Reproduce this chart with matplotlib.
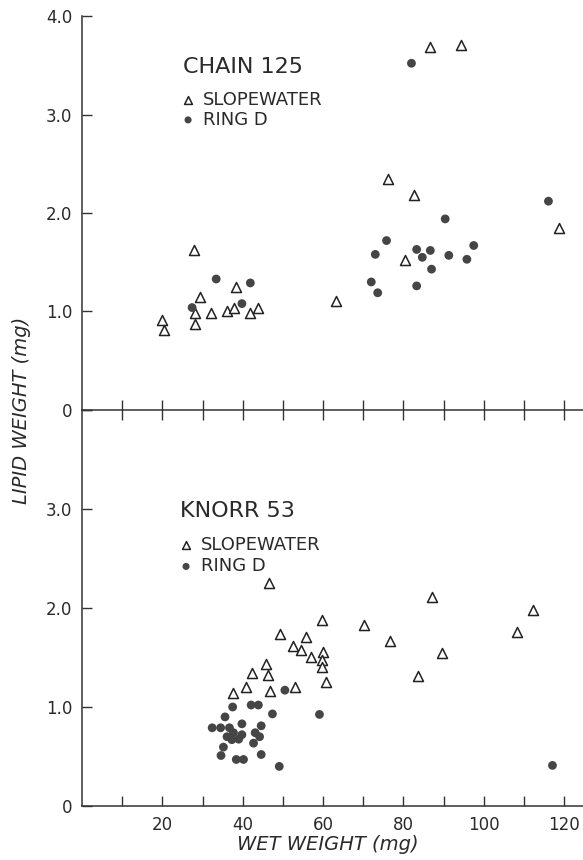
import matplotlib
matplotlib.use("Agg")
import matplotlib.pyplot as plt
from matplotlib.ticker import FixedLocator

plt.rcParams['font.family'] = ['DejaVu Sans']

# ---- CHAIN 125 ----
chain_slope_x = [19.9, 20.3, 27.8, 29.3, 28.2, 28.2, 32.2, 36.1, 37.9, 38.3, 41.7, 43.8,
                 86.5, 94.3, 76.1, 82.7, 80.5, 63.2, 118.8]
chain_slope_y = [0.91, 0.81, 1.62, 1.15, 0.98, 0.87, 0.98, 1.00, 1.04, 1.25, 0.98, 1.04,
                 3.69, 3.71, 2.35, 2.18, 1.52, 1.11, 1.85]
chain_ring_x = [27.4, 33.4, 39.8, 41.9, 82.0, 90.4, 116.1, 75.8, 73.0, 83.3, 84.7, 86.7,
                87.0, 91.3, 95.8, 97.5, 72.0, 73.6, 83.3]
chain_ring_y = [1.04, 1.33, 1.08, 1.29, 3.52, 1.94, 2.12, 1.72, 1.58, 1.63, 1.55, 1.62,
                1.43, 1.57, 1.53, 1.67, 1.30, 1.19, 1.26]

# ---- KNORR 53 ----
knorr_slope_x = [46.6, 49.3, 52.4, 54.5, 55.8, 57.0, 59.7, 59.9, 59.7, 59.7, 60.7, 45.7,
                 46.2, 42.4, 40.8, 37.6, 46.8, 52.9, 87.2, 70.3, 76.7, 89.7, 83.7, 108.2, 112.3]
knorr_slope_y = [2.25, 1.74, 1.62, 1.58, 1.71, 1.51, 1.88, 1.56, 1.47, 1.40, 1.25, 1.43,
                 1.32, 1.34, 1.20, 1.14, 1.16, 1.20, 2.11, 1.83, 1.67, 1.55, 1.31, 1.76, 1.98]
knorr_ring_x = [59.1, 117.1, 50.5, 47.4, 49.1, 37.5, 42.1, 43.9, 35.6, 39.8, 44.6, 32.4,
                34.5, 36.7, 37.7, 43.1, 39.8, 36.1, 44.2, 37.3, 39.0, 42.7, 35.2, 34.6,
                38.4, 40.2, 44.6]
knorr_ring_y = [0.925, 0.41, 1.17, 0.93, 0.40, 1.00, 1.02, 1.02, 0.90, 0.83, 0.81, 0.79,
                0.79, 0.79, 0.74, 0.74, 0.72, 0.70, 0.70, 0.67, 0.675, 0.635, 0.595, 0.51,
                0.47, 0.47, 0.52]

x_ticks = [10, 20, 30, 40, 50, 60, 70, 80, 90, 100, 110, 120]
x_ticklabels = ['', '20', '', '40', '', '60', '', '80', '', '100', '', '120']
y_ticks = [0, 1, 2, 3, 4]
top_yticklabels = ['0', '1.0', '2.0', '3.0', '4.0']
bot_yticklabels = ['0', '1.0', '2.0', '3.0', '']

INK = '#333333'
TXT = '#2a2a2a'
DOT = '#454545'

fig = plt.figure(figsize=(5.83, 8.60), dpi=100)
left = 82 / 583
ax_top = fig.add_axes([left, 1 - 410 / 860, 1 - left, 394 / 860])
ax_bot = fig.add_axes([left, 1 - 806 / 860, 1 - left, 396 / 860])

for ax in (ax_top, ax_bot):
    ax.set_xlim(0, 124.7)
    ax.set_ylim(0, 4.0)
    ax.spines['right'].set_visible(False)
    ax.spines['top'].set_visible(False)
    for s in ax.spines.values():
        s.set_color(INK)
        s.set_linewidth(1.1)
    ax.yaxis.set_major_locator(FixedLocator(y_ticks))
    ax.xaxis.set_major_locator(FixedLocator(x_ticks))
    ax.tick_params(axis='y', direction='in', length=7, width=1.0, color=INK,
                   labelsize=12, pad=7, labelcolor=TXT)
    ax.set_facecolor('none')

ax_top.set_yticklabels(top_yticklabels)
ax_bot.set_yticklabels(bot_yticklabels)
ax_top.tick_params(axis='x', direction='inout', length=14, width=1.0, color=INK,
                   labelbottom=False)
ax_bot.tick_params(axis='x', direction='in', length=7, width=1.0, color=INK,
                   labelsize=12, pad=7, labelcolor=TXT)
ax_bot.set_xticklabels(x_ticklabels)

tri_kw = dict(marker='^', s=52, facecolors='white', edgecolors='#222222', linewidths=1.1, zorder=3)
dot_kw = dict(marker='o', s=40, color=DOT, edgecolors='none', zorder=3)

ax_top.scatter(chain_slope_x, chain_slope_y, **tri_kw)
ax_top.scatter(chain_ring_x, chain_ring_y, **dot_kw)
ax_bot.scatter(knorr_slope_x, knorr_slope_y, **tri_kw)
ax_bot.scatter(knorr_ring_x, knorr_ring_y, **dot_kw)

# in-panel labels / legends
ax_top.text(25.2, 3.48, 'CHAIN 125', fontsize=16, va='center', ha='left', color=TXT)
ax_top.scatter([26.4], [3.15], **dict(tri_kw, s=32))
ax_top.scatter([26.4], [2.945], **dict(dot_kw, s=26))
ax_top.text(30.0, 3.15, 'SLOPEWATER', fontsize=13, va='center', ha='left', color=TXT)
ax_top.text(30.0, 2.945, 'RING D', fontsize=13, va='center', ha='left', color=TXT)

ax_bot.text(24.5, 2.98, 'KNORR 53', fontsize=16, va='center', ha='left', color=TXT)
ax_bot.scatter([25.9], [2.64], **dict(tri_kw, s=32))
ax_bot.scatter([25.9], [2.42], **dict(dot_kw, s=26))
ax_bot.text(29.5, 2.64, 'SLOPEWATER', fontsize=13, va='center', ha='left', color=TXT)
ax_bot.text(29.5, 2.42, 'RING D', fontsize=13, va='center', ha='left', color=TXT)

fig.text(22 / 583, 1 - 410 / 860, 'LIPID WEIGHT (mg)', rotation=90, style='italic',
         fontsize=14, ha='center', va='center', color=TXT)
fig.text(328 / 583, 1 - 845 / 860, 'WET WEIGHT (mg)', style='italic',
         fontsize=14, ha='center', va='center', color=TXT)

fig.savefig('out.png', dpi=100)
